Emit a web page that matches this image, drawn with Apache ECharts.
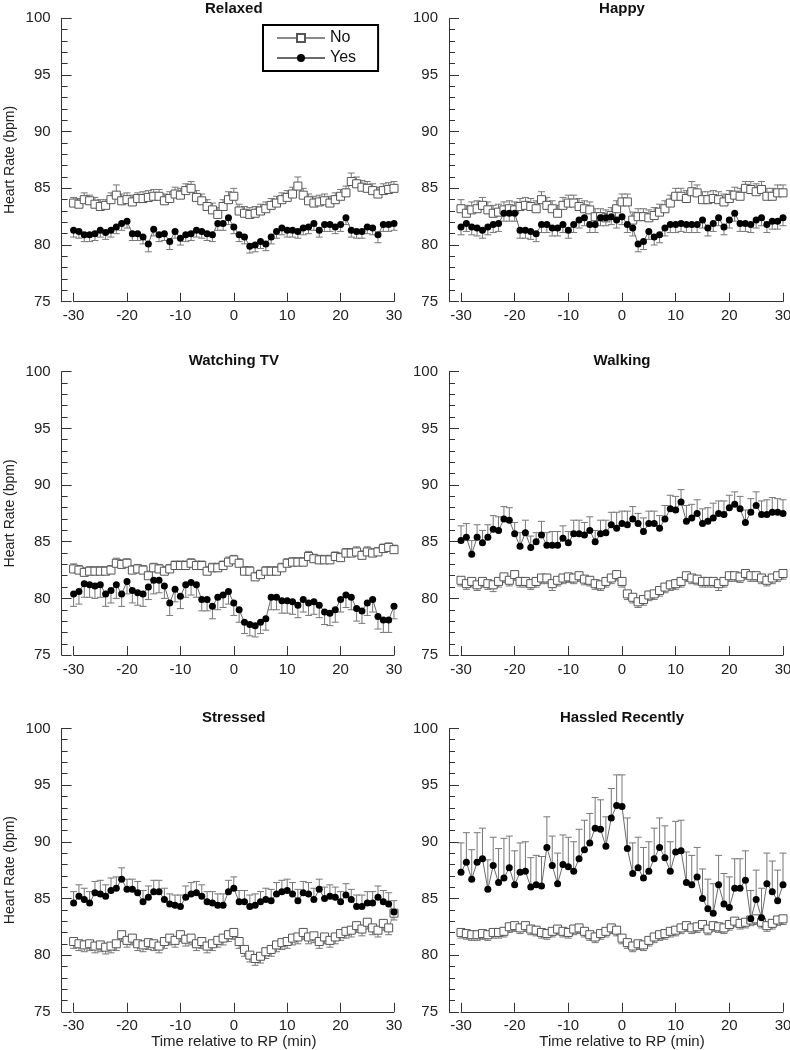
<!DOCTYPE html>
<html>
<head>
<meta charset="utf-8">
<title>Heart rate relative to RP</title>
<script src="https://cdn.jsdelivr.net/npm/echarts@6/dist/echarts.min.js"></script>
<style>
html, body { margin: 0; padding: 0; background: #fff; }
#chart { width: 790px; height: 1050px; }
</style>
</head>
<body>
<div id="chart"></div>
<script>
/* minutes relative to RP */
var minutes = [-30, -29, -28, -27, -26, -25, -24, -23, -22, -21,
    -20, -19, -18, -17, -16, -15, -14, -13, -12, -11,
    -10, -9, -8, -7, -6, -5, -4, -3, -2, -1,
    0, 1, 2, 3, 4, 5, 6, 7, 8, 9,
    10, 11, 12, 13, 14, 15, 16, 17, 18, 19,
    20, 21, 22, 23, 24, 25, 26, 27, 28, 29,
    30];
var xTicks = [-30, -20, -10, 0, 10, 20, 30];
var yTicks = [75, 80, 85, 90, 95, 100];

// Relaxed
var relaxedNo = [83.7, 83.6, 84.0, 83.9, 83.6, 83.4, 83.5, 84.0, 84.4, 83.9,
    84.0, 83.8, 84.1, 84.1, 84.2, 84.3, 84.3, 83.9, 84.1, 84.5,
    84.4, 84.8, 85.0, 84.2, 83.9, 83.4, 83.1, 82.7, 83.4, 84.0,
    84.3, 83.0, 82.8, 82.7, 82.8, 83.0, 83.2, 83.5, 83.7, 84.0,
    84.2, 84.5, 85.2, 84.4, 83.9, 83.7, 83.8, 83.9, 83.7, 84.0,
    84.3, 84.6, 85.6, 85.4, 85.1, 85.0, 84.8, 84.5, 84.8, 84.9,
    85.0];
var relaxedNoErr = [0.5, 0.5, 0.6, 0.5, 0.6, 0.6, 0.5, 0.6, 0.9, 0.6,
    0.6, 0.6, 0.5, 0.6, 0.6, 0.6, 0.6, 0.6, 0.6, 0.6,
    0.6, 0.6, 0.6, 0.6, 0.6, 0.6, 0.6, 0.6, 0.6, 0.7,
    0.7, 0.6, 0.6, 0.6, 0.6, 0.6, 0.6, 0.6, 0.6, 0.6,
    0.6, 0.6, 0.8, 0.6, 0.6, 0.6, 0.6, 0.6, 0.6, 0.6,
    0.6, 0.6, 0.75, 0.6, 0.6, 0.6, 0.6, 0.6, 0.6, 0.6,
    0.6];
var relaxedYes = [81.3, 81.2, 80.9, 80.9, 81.0, 81.3, 81.1, 81.3, 81.6, 81.9,
    82.1, 81.0, 81.0, 80.7, 80.1, 81.4, 80.9, 81.0, 80.3, 81.2,
    80.6, 80.9, 81.0, 81.3, 81.2, 81.0, 80.9, 81.9, 81.9, 82.4,
    81.6, 80.9, 80.7, 79.9, 80.0, 80.3, 80.1, 80.7, 81.2, 81.5,
    81.3, 81.3, 81.2, 81.5, 81.6, 81.9, 81.3, 81.8, 81.8, 81.6,
    81.8, 82.4, 81.3, 81.2, 81.2, 81.6, 81.5, 80.9, 81.8, 81.8,
    81.9];
var relaxedYesErr = [0.6, 0.6, 0.6, 0.6, 0.6, 0.6, 0.6, 0.6, 0.6, 0.6,
    0.6, 0.6, 0.6, 0.6, 0.7, 0.6, 0.6, 0.6, 0.7, 0.6,
    0.6, 0.6, 0.6, 0.6, 0.6, 0.6, 0.6, 0.6, 0.6, 0.6,
    0.6, 0.6, 0.6, 0.6, 0.6, 0.6, 0.6, 0.6, 0.6, 0.6,
    0.6, 0.6, 0.6, 0.6, 0.6, 0.6, 0.6, 0.6, 0.6, 0.6,
    0.6, 0.6, 0.6, 0.6, 0.6, 0.6, 0.6, 0.7, 0.6, 0.6,
    0.6];

// Happy
var happyNo = [83.2, 82.8, 83.1, 83.2, 83.5, 83.1, 82.8, 82.9, 83.1, 83.2,
    83.1, 83.4, 83.5, 83.4, 83.2, 84.0, 83.5, 83.2, 82.8, 83.5,
    83.7, 83.7, 83.4, 83.2, 83.1, 82.5, 82.5, 82.4, 82.6, 83.2,
    83.8, 83.8, 82.2, 82.5, 82.5, 82.4, 82.6, 82.9, 83.2, 83.7,
    84.3, 84.3, 84.1, 84.7, 84.6, 84.0, 84.0, 84.1, 84.0, 83.8,
    84.1, 84.4, 84.3, 85.0, 84.9, 84.7, 84.9, 84.3, 84.3, 84.6,
    84.6];
var happyNoErr = [0.8, 0.7, 0.7, 0.7, 0.7, 0.7, 0.7, 0.7, 0.7, 0.7,
    0.7, 0.7, 0.7, 0.7, 0.7, 0.7, 0.7, 0.7, 0.7, 0.7,
    0.7, 0.7, 0.7, 0.7, 0.7, 0.7, 0.7, 0.7, 0.7, 0.7,
    0.7, 0.7, 0.7, 0.7, 0.7, 0.7, 0.7, 0.7, 0.7, 0.7,
    0.7, 0.7, 0.7, 0.9, 0.7, 0.7, 0.7, 0.7, 0.7, 0.7,
    0.7, 0.7, 0.7, 0.6, 0.7, 0.7, 0.7, 0.7, 0.7, 0.7,
    0.7];
var happyYes = [81.6, 81.9, 81.6, 81.5, 81.3, 81.6, 81.8, 81.9, 82.8, 82.8,
    82.8, 81.3, 81.3, 81.2, 81.0, 81.8, 81.8, 81.5, 81.5, 81.8,
    81.3, 81.8, 82.2, 82.4, 81.8, 81.8, 82.4, 82.4, 82.5, 82.2,
    82.5, 81.8, 81.5, 80.1, 80.3, 81.2, 80.7, 80.9, 81.5, 81.8,
    81.8, 81.9, 81.8, 81.8, 81.8, 82.2, 81.5, 81.9, 82.4, 81.6,
    82.2, 82.8, 81.9, 81.9, 81.8, 82.2, 82.4, 81.8, 82.1, 82.1,
    82.4];
var happyYesErr = [0.7, 0.7, 0.7, 0.7, 0.7, 0.7, 0.7, 0.7, 0.7, 0.7,
    0.7, 0.7, 0.7, 0.7, 0.7, 0.7, 0.7, 0.7, 0.7, 0.7,
    0.7, 0.7, 0.7, 0.7, 0.7, 0.7, 0.7, 0.7, 0.7, 0.7,
    0.7, 0.7, 0.7, 0.7, 0.7, 0.7, 0.7, 0.7, 0.7, 0.7,
    0.7, 0.7, 0.7, 0.7, 0.7, 0.7, 0.7, 0.7, 0.7, 0.7,
    0.7, 0.7, 0.7, 0.7, 0.7, 0.7, 0.7, 0.7, 0.7, 0.7,
    0.7];

// Watching TV
var tvNo = [82.6, 82.5, 82.3, 82.4, 82.4, 82.4, 82.4, 82.5, 83.1, 83.0,
    83.1, 82.5, 82.6, 82.5, 82.0, 82.7, 82.6, 82.4, 82.6, 82.9,
    82.9, 82.9, 83.1, 82.9, 82.9, 82.4, 82.7, 82.7, 82.9, 83.2,
    83.4, 83.1, 82.4, 82.4, 81.9, 82.1, 82.4, 82.4, 82.4, 82.7,
    83.1, 83.2, 83.2, 83.2, 83.7, 83.5, 83.4, 83.4, 83.4, 83.7,
    83.6, 84.0, 84.0, 84.1, 83.8, 84.1, 84.0, 84.1, 84.4, 84.5,
    84.3];
var tvNoErr = [0.45, 0.4, 0.4, 0.4, 0.4, 0.4, 0.4, 0.4, 0.45, 0.4,
    0.4, 0.4, 0.4, 0.4, 0.4, 0.4, 0.4, 0.4, 0.4, 0.4,
    0.4, 0.4, 0.4, 0.4, 0.4, 0.4, 0.4, 0.4, 0.4, 0.45,
    0.4, 0.4, 0.4, 0.4, 0.4, 0.4, 0.4, 0.4, 0.4, 0.4,
    0.4, 0.4, 0.4, 0.4, 0.45, 0.4, 0.4, 0.4, 0.4, 0.4,
    0.4, 0.4, 0.4, 0.45, 0.4, 0.45, 0.4, 0.4, 0.4, 0.4,
    0.4];
var tvYes = [80.4, 80.6, 81.3, 81.2, 81.1, 81.2, 80.4, 80.7, 81.2, 80.4,
    81.5, 80.7, 80.5, 80.4, 81.0, 81.6, 81.6, 81.1, 79.6, 80.8,
    80.2, 81.2, 81.4, 81.2, 79.9, 79.9, 79.3, 80.1, 80.3, 80.6,
    79.6, 79.0, 77.9, 77.7, 77.6, 77.9, 78.2, 80.1, 80.1, 79.8,
    79.8, 79.7, 79.4, 79.9, 79.6, 79.7, 79.4, 78.8, 78.7, 79.0,
    79.9, 80.3, 80.1, 79.1, 78.9, 79.6, 79.9, 78.4, 78.1, 78.1,
    79.3];
var tvYesErr = [1.1, 1.1, 1.2, 1.1, 1.1, 1.1, 1.1, 1.1, 1.2, 1.1,
    1.1, 1.1, 1.1, 1.1, 1.1, 1.2, 1.1, 1.1, 1.1, 1.1,
    1.1, 1.1, 1.1, 1.1, 1.0, 1.0, 1.1, 1.1, 1.1, 1.1,
    1.1, 1.1, 1.0, 1.0, 1.0, 1.0, 1.0, 1.1, 1.1, 1.1,
    1.1, 1.1, 1.1, 1.1, 1.1, 1.1, 1.1, 1.1, 1.1, 1.1,
    1.1, 1.1, 1.1, 1.1, 1.1, 1.1, 1.1, 1.1, 1.1, 1.1,
    1.1];

// Walking
var walkNo = [81.6, 81.3, 81.5, 81.2, 81.5, 81.3, 81.2, 81.5, 81.9, 81.6,
    82.1, 81.5, 81.5, 81.3, 81.5, 81.8, 81.8, 81.3, 81.6, 81.8,
    81.9, 81.8, 82.0, 81.7, 81.6, 81.3, 81.2, 81.5, 81.8, 82.1,
    81.5, 80.4, 80.1, 79.7, 79.9, 80.3, 80.4, 80.7, 81.0, 81.2,
    81.3, 81.5, 82.0, 81.8, 81.7, 81.5, 81.5, 81.5, 81.3, 81.5,
    82.0, 82.0, 81.9, 82.2, 82.0, 82.0, 81.8, 81.6, 81.8, 82.0,
    82.2];
var walkNoErr = [0.5, 0.5, 0.5, 0.5, 0.5, 0.5, 0.6, 0.5, 0.5, 0.5,
    0.5, 0.5, 0.5, 0.5, 0.5, 0.5, 0.5, 0.6, 0.5, 0.5,
    0.5, 0.5, 0.5, 0.5, 0.5, 0.5, 0.5, 0.5, 0.5, 0.5,
    0.5, 0.5, 0.5, 0.5, 0.5, 0.5, 0.5, 0.5, 0.5, 0.5,
    0.5, 0.5, 0.5, 0.5, 0.5, 0.5, 0.5, 0.5, 0.6, 0.5,
    0.5, 0.5, 0.5, 0.5, 0.5, 0.5, 0.5, 0.5, 0.5, 0.5,
    0.5];
var walkYes = [85.1, 85.4, 83.9, 85.4, 84.9, 85.4, 86.1, 86.0, 87.0, 86.9,
    85.7, 84.6, 85.8, 84.5, 85.0, 85.6, 84.7, 84.7, 84.7, 85.3,
    84.9, 85.7, 85.7, 85.6, 86.0, 85.0, 85.7, 85.8, 86.5, 86.2,
    86.6, 86.5, 87.0, 86.6, 85.9, 86.6, 86.6, 86.2, 87.0, 87.9,
    87.8, 88.5, 86.8, 87.1, 87.5, 86.6, 86.8, 87.1, 87.5, 87.4,
    88.0, 88.3, 87.9, 86.7, 87.6, 88.2, 87.4, 87.4, 87.6, 87.6,
    87.5];
var walkYesErr = [1.3, 1.2, 1.2, 1.1, 1.1, 1.1, 1.2, 1.2, 1.1, 1.1,
    1.0, 1.2, 1.1, 1.0, 0.8, 1.2, 1.1, 1.2, 1.2, 1.1,
    1.0, 1.2, 1.2, 1.1, 1.2, 1.0, 1.2, 1.1, 1.1, 1.4,
    1.1, 1.2, 1.1, 0.9, 1.2, 1.1, 1.1, 1.1, 1.2, 1.2,
    1.2, 1.1, 1.4, 1.2, 1.2, 1.3, 1.2, 1.3, 1.1, 1.2,
    1.1, 1.1, 1.1, 1.1, 1.2, 1.2, 1.2, 1.3, 1.3, 1.2,
    1.2];

// Stressed
var stressNo = [81.2, 81.0, 80.9, 81.0, 80.8, 80.9, 80.7, 80.8, 81.0, 81.8,
    81.3, 81.5, 81.0, 80.9, 81.1, 81.0, 80.8, 81.2, 81.5, 81.3,
    81.8, 81.4, 81.5, 81.0, 81.2, 80.8, 81.0, 81.3, 81.5, 81.8,
    82.0, 81.2, 80.5, 80.0, 79.7, 79.9, 80.3, 80.5, 80.9, 81.1,
    81.2, 81.5, 81.6, 82.0, 81.6, 81.7, 81.2, 81.6, 81.3, 81.6,
    81.9, 82.1, 82.2, 82.6, 82.3, 82.9, 82.4, 82.2, 82.8, 82.4,
    83.7];
var stressNoErr = [0.6, 0.6, 0.6, 0.6, 0.6, 0.6, 0.6, 0.6, 0.6, 0.6,
    0.6, 0.6, 0.6, 0.6, 0.6, 0.6, 0.6, 0.6, 0.6, 0.6,
    0.6, 0.6, 0.6, 0.6, 0.6, 0.6, 0.6, 0.6, 0.6, 0.6,
    0.6, 0.6, 0.6, 0.6, 0.6, 0.6, 0.6, 0.6, 0.6, 0.6,
    0.6, 0.6, 0.6, 0.6, 0.6, 0.6, 0.6, 0.6, 0.6, 0.6,
    0.6, 0.6, 0.6, 0.6, 0.6, 0.6, 0.6, 0.6, 0.6, 0.6,
    0.6];
var stressYes = [84.6, 85.2, 84.9, 84.6, 85.5, 85.4, 85.2, 85.7, 85.9, 86.7,
    85.8, 85.8, 85.5, 84.7, 85.1, 85.6, 85.6, 84.9, 84.5, 84.4,
    84.3, 85.1, 85.4, 85.5, 85.2, 84.7, 84.6, 84.4, 84.4, 85.6,
    85.9, 84.7, 84.7, 84.3, 84.4, 84.7, 84.9, 84.8, 85.4, 85.6,
    85.7, 85.4, 84.8, 85.5, 85.4, 84.9, 85.8, 85.0, 85.2, 85.1,
    84.7, 85.3, 84.9, 84.3, 84.3, 84.6, 84.6, 85.1, 84.7, 84.5,
    83.8];
var stressYesErr = [1.0, 1.0, 1.0, 1.0, 1.0, 1.2, 1.0, 1.1, 1.0, 1.0,
    0.9, 0.9, 1.0, 1.0, 1.0, 1.0, 1.0, 1.0, 0.9, 0.9,
    1.0, 1.0, 1.0, 1.0, 1.0, 0.9, 1.0, 1.0, 1.0, 1.0,
    1.0, 1.0, 1.0, 1.0, 1.0, 0.9, 1.0, 1.0, 1.0, 1.0,
    1.0, 1.0, 1.0, 1.0, 1.0, 1.0, 0.9, 1.0, 1.0, 0.9,
    0.9, 1.0, 0.9, 1.0, 1.0, 1.0, 1.0, 1.0, 1.0, 1.0,
    1.0];

// Hassled Recently
var hassledNo = [82.0, 81.9, 81.8, 81.8, 81.9, 81.8, 82.0, 82.0, 82.1, 82.5,
    82.6, 82.4, 82.6, 82.3, 82.2, 82.0, 81.9, 82.1, 82.3, 82.1,
    82.0, 82.3, 82.4, 82.1, 81.8, 81.6, 81.9, 82.1, 82.4, 82.2,
    81.5, 81.1, 80.8, 81.0, 80.9, 81.3, 81.6, 81.8, 81.9, 82.1,
    82.2, 82.4, 82.6, 82.4, 82.5, 82.7, 82.3, 82.6, 82.5, 82.4,
    82.7, 83.0, 82.8, 82.9, 83.1, 83.2, 82.9, 82.6, 82.8, 83.1,
    83.2];
var hassledNoErr = [0.5, 0.5, 0.5, 0.5, 0.5, 0.5, 0.5, 0.5, 0.5, 0.5,
    0.5, 0.5, 0.5, 0.5, 0.5, 0.5, 0.5, 0.5, 0.5, 0.5,
    0.5, 0.5, 0.5, 0.5, 0.5, 0.5, 0.5, 0.5, 0.5, 0.5,
    0.5, 0.5, 0.5, 0.5, 0.5, 0.5, 0.5, 0.5, 0.5, 0.5,
    0.5, 0.5, 0.5, 0.5, 0.5, 0.5, 0.5, 0.5, 0.5, 0.5,
    0.5, 0.5, 0.5, 0.5, 0.5, 0.5, 0.5, 0.5, 0.5, 0.5,
    0.5];
var hassledYes = [87.3, 88.2, 86.7, 88.2, 88.5, 85.8, 87.9, 86.4, 86.8, 87.7,
    86.2, 87.3, 87.4, 86.0, 86.2, 86.1, 89.5, 87.9, 86.3, 88.0,
    87.8, 87.4, 88.5, 89.3, 89.9, 91.2, 91.1, 89.6, 92.1, 93.2,
    93.1, 89.4, 87.2, 87.7, 86.8, 87.4, 88.5, 89.5, 88.6, 87.4,
    89.1, 89.2, 86.4, 86.2, 86.9, 85.0, 84.1, 83.7, 86.2, 84.5,
    84.2, 85.9, 85.9, 86.6, 83.2, 84.9, 83.3, 86.3, 85.6, 84.8,
    86.2];
var hassledYesErr = [2.6, 2.6, 2.6, 2.6, 2.7, 2.6, 2.5, 3.0, 3.5, 2.8,
    3.0, 2.6, 2.6, 2.6, 2.6, 2.6, 2.7, 2.6, 2.7, 2.6,
    2.6, 2.6, 2.6, 2.6, 2.6, 2.7, 2.6, 2.6, 2.6, 2.7,
    2.8, 2.7, 2.7, 2.7, 2.7, 2.6, 2.7, 2.6, 2.8, 2.6,
    2.7, 2.7, 2.7, 2.6, 2.6, 2.6, 2.6, 2.6, 2.6, 2.7,
    2.7, 2.6, 2.6, 2.6, 2.5, 2.6, 2.6, 2.7, 2.7, 2.7,
    2.8];

var panels = [
    { title: 'Relaxed', no: relaxedNo, noErr: relaxedNoErr, noDir: 1, yes: relaxedYes, yesErr: relaxedYesErr, yesDir: -1 },
    { title: 'Happy', no: happyNo, noErr: happyNoErr, noDir: 1, yes: happyYes, yesErr: happyYesErr, yesDir: -1 },
    { title: 'Watching TV', no: tvNo, noErr: tvNoErr, noDir: 1, yes: tvYes, yesErr: tvYesErr, yesDir: -1 },
    { title: 'Walking', no: walkNo, noErr: walkNoErr, noDir: -1, yes: walkYes, yesErr: walkYesErr, yesDir: 1 },
    { title: 'Stressed', no: stressNo, noErr: stressNoErr, noDir: -1, yes: stressYes, yesErr: stressYesErr, yesDir: 1 },
    { title: 'Hassled Recently', no: hassledNo, noErr: hassledNoErr, noDir: -1, yes: hassledYes, yesErr: hassledYesErr, yesDir: 1 }
];

var font = 'Liberation Sans, Arial, Helvetica, sans-serif';
var rowTop = [18.3, 371.7, 728.4];
var plotH = 283.4;
var colLeft = [73.6, 461];
var colW = [320.4, 322];
var yOffset = [12, 12];

function pairs(vals) {
    return vals.map(function(v, i) { return [minutes[i], v]; });
}
function bars(vals, errs, dir) {
    return vals.map(function(v, i) { return [minutes[i], v, v + dir * errs[i]]; });
}
function renderErr(params, api) {
    var p1 = api.coord([api.value(0), api.value(1)]);
    var p2 = api.coord([api.value(0), api.value(2)]);
    var st = { stroke: '#777', lineWidth: 1 };
    return {
        type: 'group',
        children: [
            { type: 'line', shape: { x1: p1[0], y1: p1[1], x2: p2[0], y2: p2[1] }, style: st },
            { type: 'line', shape: { x1: p2[0] - 3.5, y1: p2[1], x2: p2[0] + 3.5, y2: p2[1] }, style: st }
        ]
    };
}

var grids = [], xAxes = [], yAxes = [], titles = [], series = [];
panels.forEach(function(p, i) {
    var row = Math.floor(i / 2), col = i % 2;
    grids.push({
        left: colLeft[col], top: rowTop[row], width: colW[col], height: plotH,
        containLabel: false, outerBoundsMode: 'none'
    });
    titles.push({
        text: p.title,
        left: colLeft[col] + colW[col] / 2,
        top: Math.max(1, rowTop[row] - 18),
        textAlign: 'center',
        padding: 0,
        textStyle: { fontFamily: font, fontSize: 15, fontWeight: 'bold', color: '#111' }
    });
    xAxes.push({
        gridIndex: i, type: 'value', min: -30, max: 30, interval: 10,
        name: row === 2 ? 'Time relative to RP (min)' : '',
        nameLocation: 'middle', nameGap: 21,
        nameTextStyle: { fontFamily: font, fontSize: 15, color: '#222' },
        axisLine: { onZero: false, lineStyle: { color: '#333', width: 1 } },
        axisTick: { inside: true, length: 9, lineStyle: { color: '#333' } },
        axisLabel: {
            fontFamily: font, fontSize: 15, color: '#222', margin: 7,
            formatter: function(v) { return xTicks.indexOf(v) >= 0 ? String(v) : ''; }
        },
        splitLine: { show: false }
    });
    yAxes.push({
        gridIndex: i, type: 'value', min: 75, max: 100, interval: 5, offset: yOffset[col],
        position: 'left',
        name: col === 0 ? 'Heart Rate (bpm)' : '',
        nameLocation: 'middle', nameGap: 44, nameRotate: 90,
        nameTextStyle: { fontFamily: font, fontSize: 14, color: '#222' },
        axisLine: { show: true, onZero: false, lineStyle: { color: '#333', width: 1 } },
        axisTick: { show: true, inside: true, length: 10, lineStyle: { color: '#333' } },
        minorTick: { show: true, splitNumber: 5, length: 6, lineStyle: { color: '#333' } },
        axisLabel: {
            fontFamily: font, fontSize: 15, color: '#222', margin: 11,
            formatter: function(v) { return yTicks.indexOf(v) >= 0 ? String(v) : ''; }
        },
        splitLine: { show: false },
        minorSplitLine: { show: false }
    });
    series.push({
        type: 'custom', name: 'No error', xAxisIndex: i, yAxisIndex: i, z: 1,
        renderItem: renderErr, encode: { x: 0, y: 1 }, silent: true,
        data: bars(p.no, p.noErr, p.noDir)
    }, {
        type: 'custom', name: 'Yes error', xAxisIndex: i, yAxisIndex: i, z: 1,
        renderItem: renderErr, encode: { x: 0, y: 1 }, silent: true,
        data: bars(p.yes, p.yesErr, p.yesDir)
    }, {
        type: 'line', name: 'No', xAxisIndex: i, yAxisIndex: i, z: 3,
        symbol: 'rect', symbolSize: 8, showSymbol: true,
        lineStyle: { color: '#8a8a8a', width: 1 },
        itemStyle: { color: '#fff', borderColor: '#555', borderWidth: 1 },
        data: pairs(p.no)
    }, {
        type: 'line', name: 'Yes', xAxisIndex: i, yAxisIndex: i, z: 4,
        symbol: 'circle', symbolSize: 7, showSymbol: true,
        lineStyle: { color: '#6a6a6a', width: 1 },
        itemStyle: { color: '#000', borderColor: '#000', borderWidth: 0 },
        data: pairs(p.yes)
    });
});

var option = {
    backgroundColor: '#fff',
    animation: false,
    textStyle: { fontFamily: font },
    title: titles,
    legend: {
        data: ['No', 'Yes'],
        orient: 'vertical',
        left: 263, top: 25,
        padding: [4, 22, 4, 13],
        itemGap: 2,
        itemWidth: 48, itemHeight: 10,
        borderColor: '#000', borderWidth: 2, borderRadius: 0,
        backgroundColor: '#fff',
        textStyle: { fontFamily: font, fontSize: 16, color: '#111', lineHeight: 18 }
    },
    grid: grids,
    xAxis: xAxes,
    yAxis: yAxes,
    series: series
};

var myChart = echarts.init(document.getElementById('chart'));
myChart.setOption(option);
</script>
</body>
</html>
